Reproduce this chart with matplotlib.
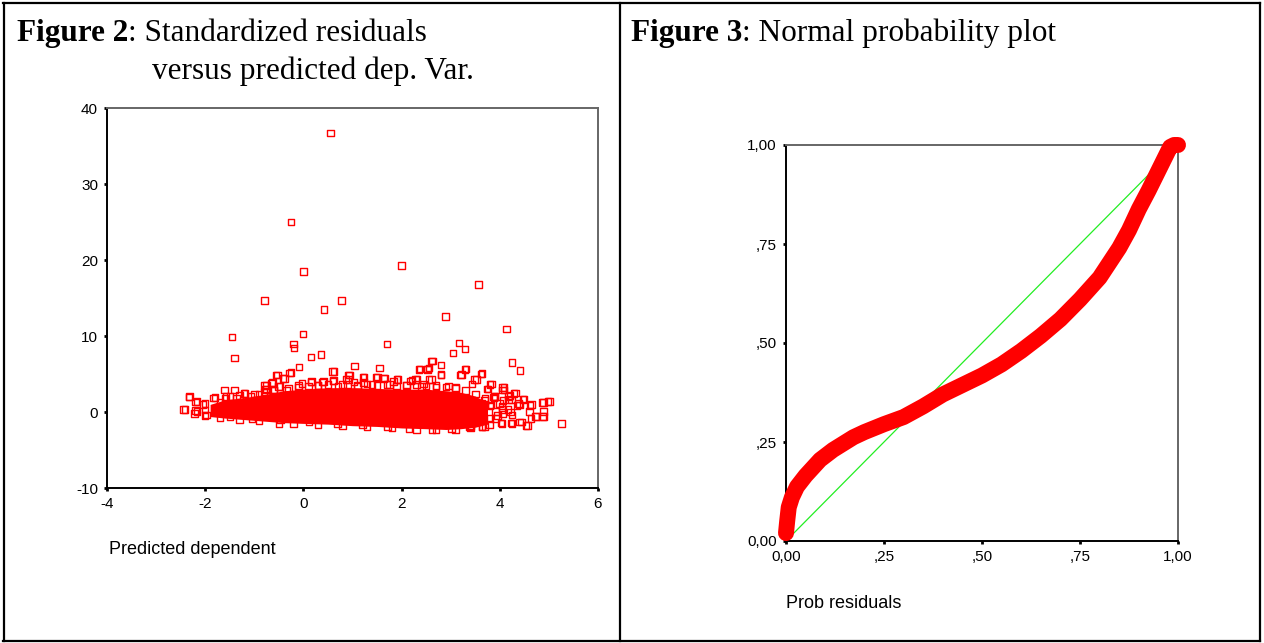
import matplotlib
matplotlib.use('Agg')
import matplotlib.pyplot as plt
from matplotlib.lines import Line2D

plt.rcParams['font.family'] = 'Liberation Sans'

W, H = 1264, 643

# ---- Figure 2 data: standardized residuals vs predicted dependent ----
# scattered squares (predicted, residual)
resid_x = [0.55, -0.25, 0.0, 2.0, -0.79, 0.78, 0.42, 3.57, 2.89, 4.14,
           -1.45, -1.40, -0.01, -0.20, -0.19, 0.15, 0.36, 1.70, 3.17, 3.05,
           3.29, 4.25, 4.41, -0.09, 0.59, 1.04, 1.55, 2.61, 2.80, 2.35,
           2.53, 2.56, 3.29, 3.62, -0.28, -0.56, -0.42, 0.92, 0.87, 1.21,
           1.48, 1.63, 1.91, 2.80, 3.20, 2.56, 3.48, 3.80, 4.06, 4.06,
           3.74, 4.29, 4.47, 4.18, 3.87, 4.98, 4.87, 4.62, -2.44, -2.33,
           -1.61, -1.40, -1.21, -0.79, -0.65, -0.76, 0.15, 0.39, 0.60, 1.03,
           2.28, 2.18, -0.53, -0.75, -0.63, -0.51, -0.39, -0.25, 0.62, 0.94,
           1.23, 1.51, 1.65, 1.93, 2.31, 2.37, 2.53, 2.63, 2.80, 2.61,
           0.41, 0.17, -0.03, 0.61, 0.92, 1.22, 1.83, 2.21, 2.10, 2.41,
           -0.48, -0.34, 3.31, 3.22, 3.64, 3.53, 3.83, 3.43, 4.09, 4.09,
           3.76, 4.32, 4.21, 3.90, 4.49, 5.01, 4.89, 4.65, 4.38, 4.07,
           4.61, 4.89, 4.89, 4.74, 4.64, 4.44, 4.56, 5.26, 4.25, 4.25,
           4.07, 4.04, 4.17, 4.05, 3.91, 3.91, 3.80, 3.79, 3.64, 3.41,
           3.89, 3.69, 3.69, 3.79, 3.99, 4.04, 4.53, 4.87, 4.40, 4.23,
           4.02, 4.73, 4.40, 4.35, 4.22, 3.95, 3.64, 3.38, 3.02, 2.62,
           2.15, 1.71, 1.20, 0.69, 0.11, -0.47, -1.05, -1.49, -2.00, -2.22,
           -2.20, -2.20, -2.04, -1.83, 4.24, 3.64, 3.82, 4.18, 3.88, -2.32,
           -2.41, -2.17, -2.17, -2.00, -2.00, -1.97, -1.80, -1.19, -1.70, -1.58,
           -1.49, -1.36, -1.07, -0.90, -0.77, -0.61, 1.40, 2.45, 2.95, 0.30,
           1.75, 2.70, 3.10, 0.80, -0.10, 1.10,
           # along the upper edge of the dense band
           -1.6, -1.3, -1.0, -0.8, -0.6, -0.3, -0.1, 0.1, 0.3, 0.5,
           0.7, 0.9, 1.1, 1.3, 1.5, 1.7, 1.9, 2.1, 2.3, 2.5,
           2.7, 2.9, 3.1, 3.3, 3.5, 3.7,
           # along the lower edge
           -1.7, -1.3, -0.9, -0.5, -0.2, 0.3, 0.8, 1.3, 1.8, 2.3,
           2.7, 3.1, 3.4, 3.7]
resid_y = [36.7, 25.0, 18.5, 19.26, 14.7, 14.7, 13.5, 16.8, 12.56, 10.9,
           9.85, 7.09, 10.28, 8.93, 8.45, 7.26, 7.57, 8.93, 9.06, 7.75,
           8.32, 6.52, 5.43, 5.91, 5.30, 6.04, 5.78, 6.70, 6.21, 5.60,
           5.60, 5.78, 5.60, 4.99, 5.16, 4.86, 4.38, 4.86, 4.25, 4.55,
           4.55, 4.38, 4.25, 4.86, 4.86, 4.25, 4.25, 3.63, 3.19, 2.89,
           3.02, 2.41, 1.66, 1.66, 1.97, 1.36, 1.23, 0.88, 0.31, 1.97,
           2.89, 2.89, 2.41, 3.50, 3.80, 3.02, 3.94, 3.94, 4.07, 3.94,
           4.25, 4.07, 4.90, 3.55, 3.86, 3.33, 4.43, 5.20, 5.35, 4.90,
           4.60, 4.60, 4.47, 4.30, 4.30, 5.66, 5.66, 6.70, 4.91, 4.30,
           3.99, 3.99, 3.78, 4.12, 4.30, 3.86, 3.99, 4.21, 3.55, 3.33,
           3.33, 2.90, 5.66, 4.91, 5.04, 4.30, 3.68, 3.68, 3.20, 2.90,
           3.03, 2.50, 2.19, 2.01, 1.71, 1.41, 1.23, 0.96, 1.09, 1.49,
           0.04, 0.04, -0.57, -0.57, -0.88, -1.32, -1.80, -1.51, -1.49, -0.39,
           -0.26, -1.49, 0.36, 0.36, 0.04, -0.88, -0.88, -1.62, -1.93, -1.75,
           2.01, 1.54, 0.96, 0.79, 1.14, 0.79, -1.81, -0.56, -1.29, -1.47,
           -1.42, -0.56, 0.95, 0.86, 0.00, -0.43, -1.94, -1.94, -2.16, -2.28,
           -2.16, -1.94, -1.72, -1.51, -1.29, -1.08, -0.86, -0.65, -0.43, -0.22,
           0.22, 1.29, 0.99, 1.85, 1.59, 1.21, 0.95, 2.03, 1.85, 2.01,
           0.36, 1.36, 0.04, 1.14, 0.26, -0.39, 1.93, 2.46, 1.22, 2.01,
           2.01, 1.80, 2.01, 2.33, 2.99, 2.90, 3.60, 3.70, 3.40, 3.50,
           3.60, 3.30, 3.20, 3.60, 3.50, 3.45,
           1.8, 2.2, 2.4, 2.6, 2.9, 3.1, 3.3, 3.4, 3.5, 3.6,
           3.4, 3.6, 3.5, 3.7, 3.5, 3.6, 3.4, 3.5, 3.6, 3.4,
           3.5, 3.3, 3.1, 2.8, 2.4, 1.8,
           -0.8, -1.0, -1.2, -1.5, -1.6, -1.7, -1.8, -2.0, -2.1, -2.3,
           -2.4, -2.3, -2.1, -1.9]

# dense core of the cloud (outline)
core_x = [-1.9, -1.6, -1.2, -0.8, -0.4, 0.0, 0.5, 1.0, 1.5, 2.0, 2.5, 2.9, 3.2, 3.5, 3.75]
core_top = [1.0, 1.6, 1.9, 2.3, 2.8, 3.0, 3.2, 3.2, 3.1, 3.0, 3.0, 2.8, 2.6, 2.1, 1.2]
core_bottom = [-0.6, -0.8, -1.0, -1.2, -1.4, -1.5, -1.6, -1.8, -1.9, -2.1, -2.2, -2.3, -2.2, -2.0, -1.6]

# ---- Figure 3 data: normal P-P plot ----
pp_x = [0.0, 0.003, 0.007, 0.015, 0.028, 0.05, 0.087, 0.12, 0.172, 0.20,
        0.25, 0.30, 0.35, 0.40, 0.45, 0.50, 0.55, 0.60, 0.65, 0.70,
        0.75, 0.80, 0.85, 0.875, 0.90, 0.925, 0.945, 0.96, 0.97, 0.98,
        0.99, 1.0]
pp_y = [0.02, 0.05, 0.085, 0.11, 0.137, 0.165, 0.205, 0.23, 0.262, 0.275,
        0.295, 0.313, 0.34, 0.37, 0.394, 0.418, 0.446, 0.48, 0.518, 0.56,
        0.61, 0.665, 0.74, 0.785, 0.838, 0.885, 0.925, 0.955, 0.975, 0.995,
        1.0, 1.0]
diag = [0.0, 1.0]

fig = plt.figure(figsize=(W / 100, H / 100), dpi=100)


def px_axes(left, top, right, bottom):
    return fig.add_axes([left / W, 1 - bottom / H, (right - left) / W, (bottom - top) / H])


def style_axes(ax):
    for s in ['left', 'bottom']:
        ax.spines[s].set_color('black')
        ax.spines[s].set_linewidth(1.4)
    for s in ['top', 'right']:
        ax.spines[s].set_color('#666666')
        ax.spines[s].set_linewidth(1.4)
    ax.tick_params(direction='out', length=2.5, width=2, labelsize=11, pad=4,
                   colors='black')


# left chart
ax1 = px_axes(107, 108, 598, 488)
ax1.fill_between(core_x, core_bottom, core_top, color='#ff0000', lw=0, zorder=2)
ax1.scatter(resid_x, resid_y, marker='s', s=22, facecolors='none',
            edgecolors='#ff0000', linewidths=1.0, zorder=3)
ax1.set_xlim(-4, 6)
ax1.set_ylim(-10, 40)
ax1.set_xticks([-4, -2, 0, 2, 4, 6])
ax1.set_xticklabels(['-4', '-2', '0', '2', '4', '6'])
ax1.set_yticks([-10, 0, 10, 20, 30, 40])
ax1.set_yticklabels(['-10', '0', '10', '20', '30', '40'])
style_axes(ax1)

# right chart
ax2 = px_axes(786, 145, 1178, 541)
ax2.plot(diag, diag, color='#22ee22', lw=0.9, zorder=2)
ax2.plot(pp_x, pp_y, color='#ff0000', lw=11.5, solid_capstyle='round',
         solid_joinstyle='round', zorder=3, clip_on=False)
ax2.set_xlim(0, 1)
ax2.set_ylim(0, 1)
ticks = [0, 0.25, 0.5, 0.75, 1.0]
labels = ['0,00', ',25', ',50', ',75', '1,00']
ax2.set_xticks(ticks)
ax2.set_xticklabels(labels)
ax2.set_yticks(ticks)
ax2.set_yticklabels(labels)
style_axes(ax2)

# axis titles (SPSS puts them below the plot, left aligned)
fig.text(109 / W, 1 - 550 / H, 'Predicted dependent', fontsize=13, va='center', ha='left')
fig.text(786 / W, 1 - 604 / H, 'Prob residuals', fontsize=13, va='center', ha='left')

# captions in the table cells
serif = 'Liberation Serif'
fs = 22.5
t = fig.text(17 / W, 1 - 41 / H, 'Figure 2', fontsize=fs, fontweight='bold',
             family=serif, va='baseline')
fig.canvas.draw()
bb = t.get_window_extent()
fig.text(bb.x1 / W, 1 - 41 / H, ': Standardized residuals', fontsize=fs,
         family=serif, va='baseline')
fig.text(152 / W, 1 - 79 / H, 'versus predicted dep. Var.', fontsize=fs,
         family=serif, va='baseline')
t = fig.text(631 / W, 1 - 41 / H, 'Figure 3', fontsize=fs, fontweight='bold',
             family=serif, va='baseline')
bb = t.get_window_extent()
fig.text(bb.x1 / W, 1 - 41 / H, ': Normal probability plot', fontsize=fs,
         family=serif, va='baseline')

# table borders
for x0, y0, x1, y1 in [(3, 2.5, 1260, 2.5), (3, 641, 1260, 641),
                       (3.5, 2.5, 3.5, 641), (620, 2.5, 620, 641),
                       (1260, 2.5, 1260, 641)]:
    fig.add_artist(Line2D([x0 / W, x1 / W], [1 - y0 / H, 1 - y1 / H],
                          color='black', lw=1.6, transform=fig.transFigure))

fig.savefig('out.png', dpi=100, facecolor='white')
